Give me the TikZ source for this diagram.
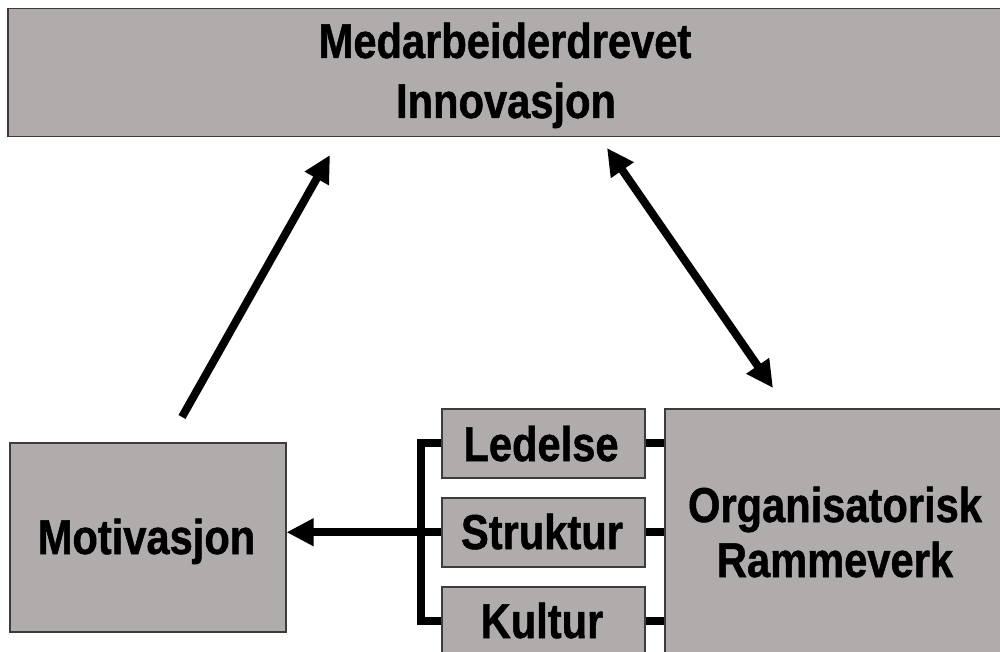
\documentclass[tikz,border=0pt]{standalone}
\usepackage{fontspec}
\setmainfont{Liberation Sans}[FakeStretch=0.85, BoldFeatures={FakeBold=1}]
\usetikzlibrary{arrows.meta}
\definecolor{boxfill}{RGB}{176,172,172}
\definecolor{boxline}{RGB}{60,60,60}
\tikzset{
  box/.style={draw=boxline, line width=1.5pt, fill=boxfill, rectangle, inner sep=0pt, anchor=north west},
  lbl/.style={anchor=base, inner sep=0pt, font=\fontsize{49}{60}\selectfont\bfseries},
  conn/.style={line width=8pt, black, line join=miter},
  tip/.style={-{Triangle[length=27pt,width=26pt]}},
  tips/.style={{Triangle[length=27pt,width=26pt]}-{Triangle[length=27pt,width=26pt]}},
}
\begin{document}
\begin{tikzpicture}[x=1pt,y=-1pt]
\useasboundingbox (0,0) rectangle (1000,652);
\clip (0,0) rectangle (1000,652);
% boxes
\node[box, minimum width=1010pt, minimum height=128pt] (top) at (7,8) {};
\node[box, minimum width=276pt, minimum height=189pt] (mot) at (9,442) {};
\node[box, minimum width=203pt, minimum height=69pt] (led) at (441,408) {};
\node[box, minimum width=203pt, minimum height=69pt] (str) at (441,497) {};
\node[box, minimum width=203pt, minimum height=69pt] (kul) at (441,586) {};
\node[box, minimum width=350pt, minimum height=260pt] (org) at (664,408) {};
% labels
\node[lbl] (t1) at (505,58) {Medarbeiderdrevet};
\node[lbl] (t2) at (506,118) {Innovasjon};
\node[lbl] (t3) at (146.5,554) {Motivasjon};
\node[lbl] (t4) at (541,461) {Ledelse};
\node[lbl] (t5) at (542,549) {Struktur};
\node[lbl] (t6) at (542,638) {Kultur};
\node[lbl] (t7) at (835,522) {Organisatorisk};
\node[lbl] (t8) at (835,577) {Rammeverk};
% connector end points
\coordinate (m1) at (182,417);
\coordinate (m2) at (330,155);
\coordinate (o1) at (773,388);
\coordinate (o2) at (607,148);
\coordinate (bar) at (421,0);
% bracket
\draw[conn] (led.west) -- (led.west -| bar) -- (kul.west -| bar) -- (kul.west);
\draw[conn, tip] (str.west) -- (str.west -| mot.east);
% right stubs
\draw[conn] (led.east) -- (led.east -| org.west);
\draw[conn] (str.east) -- (str.east -| org.west);
\draw[conn] (kul.east) -- (kul.east -| org.west);
% diagonal arrows
\draw[conn, tip] (m1) -- (m2);
\draw[conn, tips] (o1) -- (o2);
\end{tikzpicture}
\end{document}
